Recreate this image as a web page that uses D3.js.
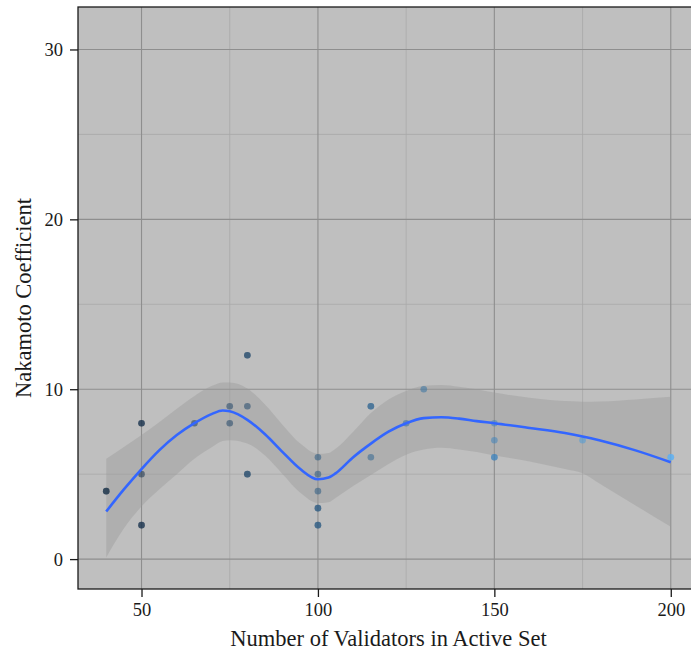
<!DOCTYPE html>
<html>
<head>
<meta charset="utf-8">
<script src="https://cdn.jsdelivr.net/npm/d3@7"></script>
<style>
  html, body { margin: 0; padding: 0; background: #ffffff; }
  svg { display: block; }
  text { font-family: "Liberation Serif", "DejaVu Serif", serif; fill: #1a1a1a; }
</style>
</head>
<body>
<svg id="chart" width="691" height="656"></svg>
<script>
// Observations: active-set size vs Nakamoto coefficient (repeated pairs overlap)
const validators = [40, 40, 50, 50, 50, 50, 50, 65, 75, 75, 80, 80, 80, 80, 80,
                    100, 100, 100, 100, 100, 100, 100, 115, 115, 115, 125, 130,
                    150, 150, 150, 150, 175, 200, 200];
const nakamoto   = [4, 4, 8, 8, 5, 2, 2, 8, 9, 8, 12, 12, 9, 5, 5,
                    6, 5, 4, 3, 3, 2, 2, 9, 9, 6, 8, 10,
                    8, 7, 6, 6, 7, 6, 6];

// Loess fit with its confidence band
const smoothX     = [40, 45, 50, 55, 60, 65, 70, 73, 75, 80, 85, 90, 95, 100, 103, 105, 110,
                     115, 120, 125, 130, 135, 140, 145, 150, 160, 170, 175, 180, 190, 200];
const smoothFit   = [2.8, 4.1, 5.3, 6.4, 7.3, 8.0, 8.55, 8.75, 8.7, 8.2, 7.35, 6.3, 5.3, 4.7, 4.8, 5.05, 6.0,
                     6.8, 7.5, 8.0, 8.3, 8.35, 8.27, 8.12, 8.0, 7.72, 7.42, 7.22, 6.98, 6.4, 5.7];
const smoothUpper = [5.9, 6.6, 7.3, 8.05, 8.85, 9.6, 10.2, 10.4, 10.4, 10.05, 9.1, 7.9, 6.8, 6.2, 6.25, 6.5, 7.5,
                     8.6, 9.4, 9.9, 10.2, 10.25, 10.15, 10.0, 9.8, 9.5, 9.3, 9.27, 9.28, 9.4, 9.55];
const smoothLower = [0.1, 1.8, 3.1, 4.1, 5.0, 5.9, 6.6, 6.95, 7.0, 6.8, 6.1, 5.0, 3.9, 3.3, 3.35, 3.6, 4.3,
                     4.95, 5.6, 6.15, 6.45, 6.55, 6.45, 6.3, 6.1, 5.75, 5.3, 5.05, 4.42, 3.16, 1.9];

const xTicks = [50, 100, 150, 200];
const yTicks = [0, 10, 20, 30];
const xMinor = [75, 125, 175];
const yMinor = [5, 15, 25];

const svg = d3.select("#chart");
const panel = { left: 78, top: 7, right: 699, bottom: 589 };

const x = d3.scaleLinear().domain([32, 208]).range([panel.left, panel.right]);
const y = d3.scaleLinear().domain([-1.76, 32.5]).range([panel.bottom, panel.top]);
const colour = d3.scaleLinear().domain([40, 200])
  .range(["#132B43", "#56B1F7"]).interpolate(d3.interpolateLab);

// panel background
svg.append("rect")
  .attr("x", panel.left).attr("y", panel.top)
  .attr("width", panel.right - panel.left).attr("height", panel.bottom - panel.top)
  .attr("fill", "#bfbfbf");

const grid = svg.append("g");
grid.selectAll("line.xminor").data(xMinor).join("line")
  .attr("x1", d => x(d)).attr("x2", d => x(d))
  .attr("y1", panel.top).attr("y2", panel.bottom)
  .attr("stroke", "#a8a8a8").attr("stroke-width", 0.8);
grid.selectAll("line.yminor").data(yMinor).join("line")
  .attr("x1", panel.left).attr("x2", panel.right)
  .attr("y1", d => y(d)).attr("y2", d => y(d))
  .attr("stroke", "#a8a8a8").attr("stroke-width", 0.8);
grid.selectAll("line.xmajor").data(xTicks).join("line")
  .attr("x1", d => x(d)).attr("x2", d => x(d))
  .attr("y1", panel.top).attr("y2", panel.bottom)
  .attr("stroke", "#8e8e8e").attr("stroke-width", 1.1);
grid.selectAll("line.ymajor").data(yTicks).join("line")
  .attr("x1", panel.left).attr("x2", panel.right)
  .attr("y1", d => y(d)).attr("y2", d => y(d))
  .attr("stroke", "#8e8e8e").attr("stroke-width", 1.1);

// confidence band
const band = smoothX.map((v, i) => ({ x: v, lo: smoothLower[i], hi: smoothUpper[i], fit: smoothFit[i] }));
svg.append("path")
  .datum(band)
  .attr("d", d3.area().curve(d3.curveMonotoneX)
    .x(d => x(d.x)).y0(d => y(d.lo)).y1(d => y(d.hi)))
  .attr("fill", "#999999").attr("fill-opacity", 0.4);

// observations
const pts = validators.map((v, i) => ({ x: v, y: nakamoto[i] }));
svg.append("g").selectAll("circle").data(pts).join("circle")
  .attr("cx", d => x(d.x)).attr("cy", d => y(d.y)).attr("r", 3.3)
  .attr("fill", d => colour(d.x)).attr("fill-opacity", 0.55);

// fitted curve
svg.append("path")
  .datum(band)
  .attr("d", d3.line().curve(d3.curveMonotoneX).x(d => x(d.x)).y(d => y(d.fit)))
  .attr("fill", "none").attr("stroke", "#3366FF").attr("stroke-width", 2.6);

// panel border
svg.append("rect")
  .attr("x", panel.left).attr("y", panel.top)
  .attr("width", panel.right - panel.left).attr("height", panel.bottom - panel.top)
  .attr("fill", "none").attr("stroke", "#1a1a1a").attr("stroke-width", 1.3);

// axes
const xAxis = d3.axisBottom(x).tickValues(xTicks).tickSize(8).tickPadding(6);
const yAxis = d3.axisLeft(y).tickValues(yTicks).tickSize(8).tickPadding(7);

const gx = svg.append("g").attr("transform", `translate(0,${panel.bottom})`).call(xAxis);
const gy = svg.append("g").attr("transform", `translate(${panel.left},0)`).call(yAxis);
[gx, gy].forEach(g => {
  g.select(".domain").remove();
  g.selectAll(".tick line").attr("stroke", "#1a1a1a").attr("stroke-width", 1.3);
  g.selectAll(".tick text").attr("font-family", "Liberation Serif").attr("font-size", 18.5).attr("fill", "#333333");
});

svg.append("text")
  .attr("x", (panel.left + panel.right) / 2).attr("y", 646)
  .attr("text-anchor", "middle").attr("font-size", 22.5)
  .text("Number of Validators in Active Set");

svg.append("text")
  .attr("transform", `translate(31,${(panel.top + panel.bottom) / 2}) rotate(-90)`)
  .attr("text-anchor", "middle").attr("font-size", 22.5)
  .text("Nakamoto Coefficient");
</script>
</body>
</html>
